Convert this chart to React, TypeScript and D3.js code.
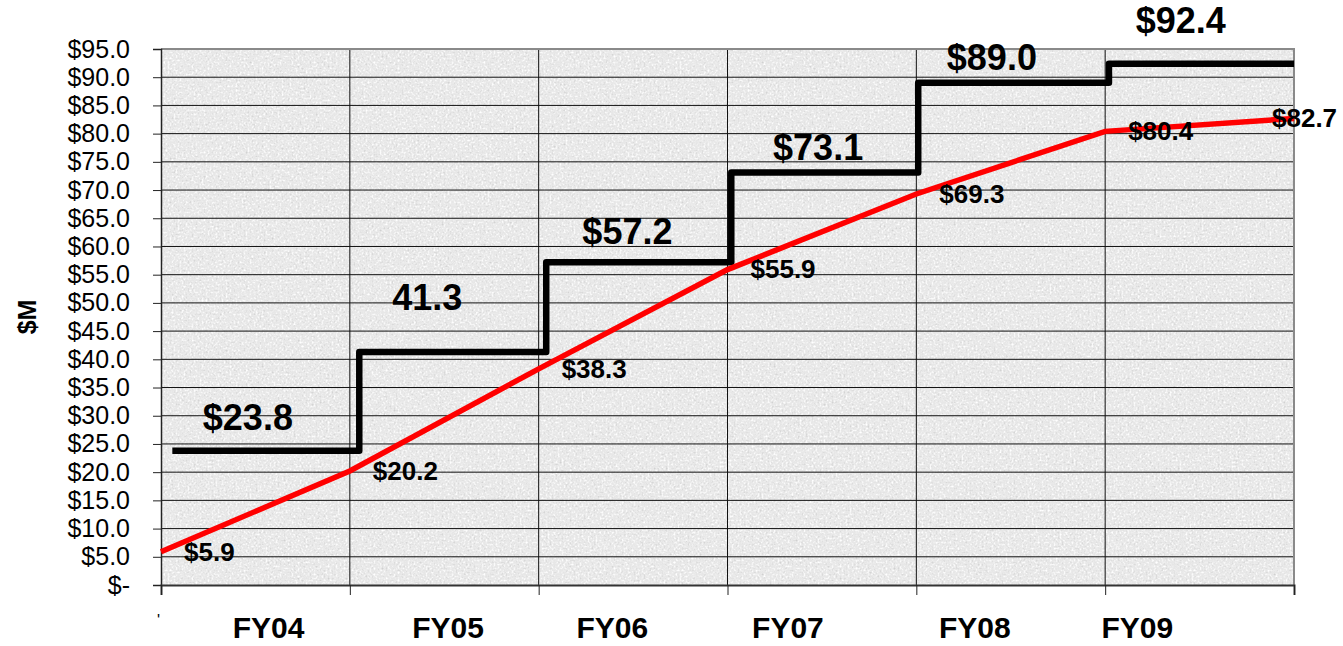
import { useEffect, useRef } from "react";
import * as d3 from "d3";

// cumulative spend (red) at each fiscal-year boundary
const cumulative = [5.9, 20.2, 38.3, 55.9, 69.3, 80.4, 82.7];
// budget steps (black) and where each step starts, in fiscal-year units
const budget = [23.8, 41.3, 57.2, 73.1, 89.0, 92.4];
const budgetLabels = ["$23.8", "41.3", "$57.2", "$73.1", "$89.0", "$92.4"];
const stepStarts = [0.06, 1.05, 2.04, 3.02, 4.01, 5.02];
const stepEnd = 6;
// hand-placed text boxes on the original (x in years, y in $M)
const budgetLabelX = [0.46, 1.41, 2.47, 3.48, 4.4, 5.4];
const budgetLabelY = [27.5, 48.7, 60.4, 75.3, 91.3, 97.8];
const years = ["FY04", "FY05", "FY06", "FY07", "FY08", "FY09"];
const yearLabelX = [0.57, 1.52, 2.39, 3.32, 4.31, 5.17];
const yTicks = d3.range(0, 96, 5);

export default function App() {
  const ref = useRef<SVGSVGElement>(null);

  useEffect(() => {
    const width = 1343;
    const height = 646;
    const margin = { top: 49, right: 49, bottom: 61, left: 161 };
    const font = "Liberation Sans, Arial, sans-serif";

    const svg = d3.select(ref.current);
    svg.selectAll("*").remove();
    svg.attr("viewBox", `0 0 ${width} ${height}`);

    // granite-like paper texture
    const f = svg
      .append("defs")
      .append("filter")
      .attr("id", "granite")
      .attr("x", 0)
      .attr("y", 0)
      .attr("width", 1)
      .attr("height", 1);
    f.append("feTurbulence")
      .attr("type", "fractalNoise")
      .attr("baseFrequency", 0.5)
      .attr("numOctaves", 3)
      .attr("seed", 7)
      .attr("result", "noise");
    f.append("feColorMatrix")
      .attr("in", "noise")
      .attr("type", "matrix")
      .attr("values", "0 0 0 0 0.62  0 0 0 0 0.62  0 0 0 0 0.62  3 0 0 0 -1.65")
      .attr("result", "dark");
    f.append("feColorMatrix")
      .attr("in", "noise")
      .attr("type", "matrix")
      .attr("values", "0 0 0 0 1  0 0 0 0 1  0 0 0 0 1  0 -3 0 0 1.6")
      .attr("result", "light");
    f.append("feFlood").attr("flood-color", "#e7e7e7").attr("result", "base");
    const merge = f.append("feMerge");
    merge.append("feMergeNode").attr("in", "base");
    merge.append("feMergeNode").attr("in", "light");
    merge.append("feMergeNode").attr("in", "dark");

    const x = d3
      .scaleLinear()
      .domain([0, 6])
      .range([margin.left, width - margin.right]);
    const y = d3
      .scaleLinear()
      .domain([0, 95])
      .range([height - margin.bottom, margin.top]);

    svg
      .append("rect")
      .attr("x", x(0))
      .attr("y", y(95))
      .attr("width", x(6) - x(0))
      .attr("height", y(0) - y(95))
      .attr("filter", "url(#granite)");

    // grid
    svg
      .append("g")
      .selectAll("line")
      .data(yTicks.filter((d) => d > 0 && d < 95))
      .join("line")
      .attr("x1", x(0))
      .attr("x2", x(6))
      .attr("y1", (d) => y(d))
      .attr("y2", (d) => y(d))
      .attr("stroke", "#111")
      .attr("stroke-width", 1);
    svg
      .append("g")
      .selectAll("line")
      .data(d3.range(1, 6))
      .join("line")
      .attr("x1", (d) => x(d))
      .attr("x2", (d) => x(d))
      .attr("y1", y(95))
      .attr("y2", y(0))
      .attr("stroke", "#111")
      .attr("stroke-width", 1);

    svg
      .append("path")
      .attr("d", `M${x(0)},${y(95)}H${x(6)}V${y(0)}`)
      .attr("fill", "none")
      .attr("stroke", "#8a8a8a")
      .attr("stroke-width", 2);

    // y axis
    svg
      .append("g")
      .attr("transform", `translate(${x(0)},0)`)
      .call(
        d3
          .axisLeft(y)
          .tickValues(yTicks)
          .tickSize(8)
          .tickPadding(23)
          .tickFormat((d) => (d === 0 ? "$-" : `$${(+d).toFixed(1)}`)),
      )
      .call((g) => g.select(".domain").attr("stroke", "#222").attr("stroke-width", 1.5))
      .call((g) => g.selectAll("line").attr("stroke", "#222"))
      .call((g) =>
        g.selectAll("text").attr("fill", "#000").attr("font-size", 25).attr("font-family", font),
      );

    // x axis, ticks at year boundaries
    svg
      .append("g")
      .attr("transform", `translate(0,${y(0)})`)
      .call(
        d3
          .axisBottom(x)
          .tickValues(d3.range(0, 7))
          .tickSize(10)
          .tickFormat(() => ""),
      )
      .call((g) => g.select(".domain").attr("stroke", "#333").attr("stroke-width", 2))
      .call((g) => g.selectAll("line").attr("stroke", "#222"));

    svg
      .append("g")
      .selectAll("text")
      .data(years)
      .join("text")
      .attr("x", (_, i) => x(yearLabelX[i]))
      .attr("y", 638)
      .attr("text-anchor", "middle")
      .attr("font-family", font)
      .attr("font-weight", "bold")
      .attr("font-size", 30)
      .text((d) => d);

    svg
      .append("text")
      .attr("x", x(0) - 4)
      .attr("y", 626)
      .attr("font-family", font)
      .attr("font-size", 16)
      .text("'");

    svg
      .append("text")
      .attr("transform", `translate(36,${y(47.5)}) rotate(-90)`)
      .attr("text-anchor", "middle")
      .attr("font-family", font)
      .attr("font-weight", "bold")
      .attr("font-size", 25)
      .text("$M");

    // budget step line
    const stepPts: [number, number][] = budget.map((v, i) => [stepStarts[i], v]);
    stepPts.push([stepEnd, budget[budget.length - 1]]);
    svg
      .append("path")
      .datum(stepPts)
      .attr(
        "d",
        d3
          .line<[number, number]>()
          .x((d) => x(d[0]))
          .y((d) => y(d[1]))
          .curve(d3.curveStepAfter),
      )
      .attr("fill", "none")
      .attr("stroke", "#000")
      .attr("stroke-width", 6.5)
      .attr("stroke-linejoin", "round");

    // cumulative line
    svg
      .append("path")
      .datum(cumulative)
      .attr(
        "d",
        d3
          .line<number>()
          .x((_, i) => x(i))
          .y((d) => y(d)),
      )
      .attr("fill", "none")
      .attr("stroke", "#ff0000")
      .attr("stroke-width", 5.5);

    svg
      .append("g")
      .selectAll("text")
      .data(cumulative)
      .join("text")
      .attr("x", (_, i) => x(i) + (i === cumulative.length - 1 ? -22 : 23))
      .attr("y", (d) => y(d) + 2)
      .attr("dominant-baseline", "middle")
      .attr("font-family", font)
      .attr("font-weight", "bold")
      .attr("font-size", 26)
      .text((d) => `$${d.toFixed(1)}`);

    svg
      .append("g")
      .selectAll("text")
      .data(budgetLabels)
      .join("text")
      .attr("x", (_, i) => x(budgetLabelX[i]))
      .attr("y", (_, i) => y(budgetLabelY[i]))
      .attr("text-anchor", "middle")
      .attr("font-family", font)
      .attr("font-weight", "bold")
      .attr("font-size", 36)
      .text((d) => d);
  }, []);

  return (
    <svg
      ref={ref}
      width={1343}
      height={646}
      style={{ position: "fixed", left: 0, top: 0, background: "#fff" }}
    />
  );
}
